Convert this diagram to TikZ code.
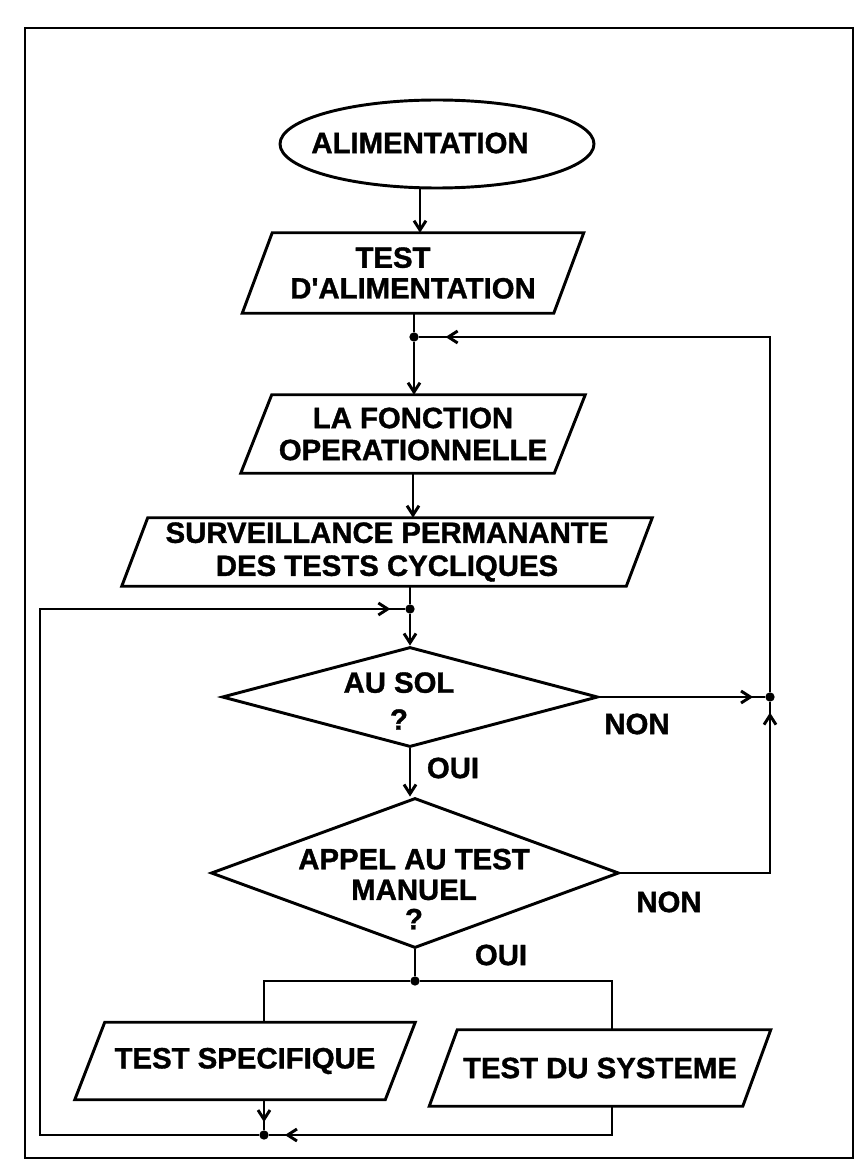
\documentclass[tikz,border=0pt]{standalone}
\usepackage{fontspec}
\setmainfont{Liberation Sans}[BoldFeatures={FakeBold=1.2}]
\usetikzlibrary{shapes.geometric,arrows.meta,calc,decorations.markings}

% parallelogram drawn round a rectangular text node: #1 node, #2 slant in px
\newcommand\drawparal[2]{%
  \draw[flow] ($(#1.north west)+(#2,0)$) -- (#1.north east)
    -- ($(#1.south east)+(-#2,0)$) -- (#1.south west) -- cycle;}

\begin{document}
\begin{tikzpicture}[x=0.75pt,y=-0.75pt,
  flow/.style={line width=2.2pt},
  arrowend/.style={-{Straight Barb[length=7pt,width=9pt]}},
  headnear/.style={postaction={decorate},
    decoration={markings,mark=at position #1 with {\arrow{Straight Barb[length=7pt,width=9pt]}}}},
  dot/.style={circle,fill,inner sep=0pt,minimum size=7pt},
  lbl/.style={font=\bfseries\fontsize{22}{23}\selectfont,align=center,inner sep=0pt},
  frame/.style={draw,line width=2.2pt,inner sep=0pt},
  iobox/.style={lbl,minimum width=#1},
]
\useasboundingbox (0,0) rectangle (861,1173);
\draw[flow] (25,28) rectangle (853,1158);

% start of the chart
\node[frame,ellipse,minimum width=235.5pt,minimum height=66pt] (alim) at (437,144) {};
\node[lbl] (alimtxt) at (420,143) {ALIMENTATION};

% input/output blocks
\node[iobox=255.75pt,minimum height=60pt] (talim) at (413,273) {TEST\hspace*{30pt}\\D\textquotesingle ALIMENTATION};
\drawparal{talim}{30}
\node[iobox=258pt,minimum height=58.5pt] (fonc) at (413,434) {LA FONCTION\\[1pt]OPERATIONNELLE};
\drawparal{fonc}{31}
\node[iobox=397.5pt,minimum height=51pt] (surv) at (387,552) {SURVEILLANCE PERMANANTE\\[1.75pt]DES TESTS CYCLIQUES};
\drawparal{surv}{26}
\node[iobox=255pt,minimum height=57.75pt] (spec) at (245,1061) {TEST SPECIFIQUE};
\drawparal{spec}{30}
\node[iobox=255.75pt,minimum height=57pt] (sys) at (600,1068) {TEST DU SYSTEME};
\drawparal{sys}{28}

% decisions
\node[frame,diamond,minimum width=282pt,minimum height=75pt] (sol) at (410,697) {};
\node[lbl] (soltxt) at (399,701) {AU SOL\\[4.75pt]?};
\node[frame,diamond,minimum width=306pt,minimum height=112.5pt] (app) at (415,873) {};
\node[lbl] (apptxt) at (414,889) {APPEL AU TEST\\MANUEL\\[-1pt]?};

% branch labels
\node[lbl] (non1) at (637,724) {NON};
\node[lbl] (oui1) at (453,768) {OUI};
\node[lbl] (non2) at (669,902) {NON};
\node[lbl] (oui2) at (501,955) {OUI};

% junctions
\node[dot] (J1) at (414,337) {};
\node[dot] (J2) at (410,609) {};
\node[dot] (jr) at (770,697) {};
\node[dot] (J3) at (415,981) {};
\node[dot] (J4) at (264,1135) {};
\coordinate (bL) at (264,981);
\coordinate (bR) at (612,981);
\coordinate (lx) at (40,609);

% main flow
\draw[flow,arrowend] (alimtxt |- alim.south) -- (alimtxt |- talim.north);
\draw[flow] (talim.south -| J1) -- (J1);
\draw[flow,arrowend] (J1) -- (J1 |- fonc.north);
\draw[flow,arrowend] (fonc.south) -- (fonc.south |- surv.north);
\draw[flow] (J2 |- surv.south) -- (J2);
\draw[flow,arrowend] (J2) -- (sol.north);
\draw[flow,arrowend] (sol.south) -- (sol.south |- app.north);
\draw[flow] (app.south) -- (J3);
\draw[flow] (J3) -- (bL) -- (bL |- spec.north);
\draw[flow] (J3) -- (bR) -- (bR |- sys.north);

% loops back
\draw[flow,headnear=-9pt] (sol.east) -- (jr);
\draw[flow,headnear=-8pt] (app.east) -- (app.east -| jr) -- (jr);
\draw[flow,headnear=-20pt] (jr) -- (jr |- J1) -- (J1);
\draw[flow,headnear=-6pt] (bL |- spec.south) -- (J4);
\draw[flow,headnear=-12pt] (bR |- sys.south) -- (bR |- J4) -- (J4);
\draw[flow,headnear=-11pt] (J4) -- (J4 -| lx) -- (lx) -- (J2);
\end{tikzpicture}
\end{document}
